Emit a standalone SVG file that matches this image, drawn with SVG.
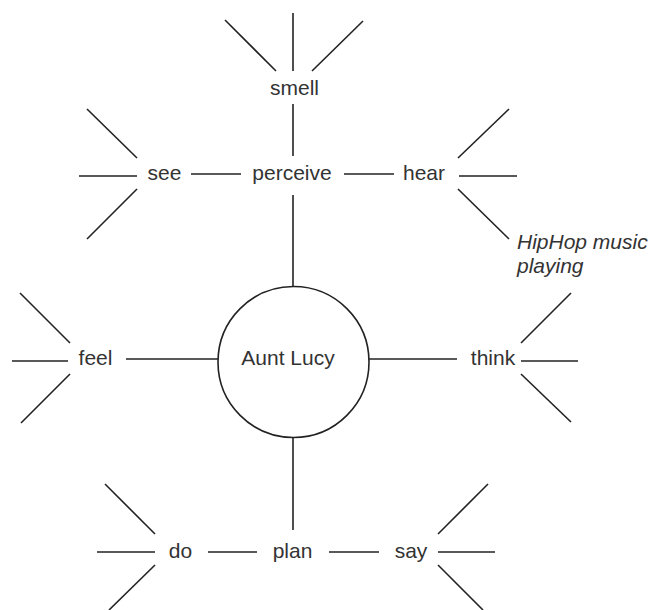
<svg xmlns="http://www.w3.org/2000/svg" width="649" height="610" viewBox="0 0 649 610">
<style>
.ln{stroke:#222;stroke-width:1.6;fill:none;stroke-linecap:butt}
.t{font-family:"Liberation Sans",Arial,sans-serif;font-size:21px;fill:#333;text-anchor:middle}
.i{font-family:"Liberation Sans",Arial,sans-serif;font-size:21px;fill:#333;font-style:italic}
</style>
<rect width="649" height="610" fill="#fff"/>
<g id="connectors" class="ln">
<line x1="293" y1="104" x2="293" y2="156"/>
<line x1="191" y1="174" x2="241" y2="174"/>
<line x1="344" y1="174" x2="394" y2="174"/>
<line x1="293" y1="195" x2="293" y2="287"/>
<line x1="126" y1="359" x2="218" y2="359"/>
<line x1="369" y1="359" x2="457" y2="359"/>
<line x1="293" y1="437" x2="293" y2="530"/>
<line x1="208" y1="552" x2="257" y2="552"/>
<line x1="329" y1="552" x2="379" y2="552"/>
<!-- smell fan -->
<line x1="225" y1="20" x2="276" y2="71"/>
<line x1="293" y1="13" x2="293" y2="71"/>
<line x1="363" y1="21" x2="312" y2="71"/>
<!-- see fan -->
<line x1="87" y1="109" x2="137" y2="158"/>
<line x1="79" y1="176" x2="137" y2="176"/>
<line x1="137" y1="189" x2="87" y2="239"/>
<!-- hear fan -->
<line x1="458" y1="158" x2="509" y2="109"/>
<line x1="459" y1="176" x2="517" y2="176"/>
<line x1="458" y1="189" x2="509" y2="239"/>
<!-- feel fan -->
<line x1="20" y1="293" x2="70" y2="343"/>
<line x1="12" y1="361" x2="68" y2="361"/>
<line x1="70" y1="374" x2="21" y2="423"/>
<!-- think fan -->
<line x1="521" y1="343" x2="571" y2="293"/>
<line x1="521" y1="361" x2="578" y2="361"/>
<line x1="521" y1="374" x2="571" y2="422"/>
<!-- do fan -->
<line x1="105" y1="484" x2="155" y2="534"/>
<line x1="97" y1="552" x2="155" y2="552"/>
<line x1="155" y1="565" x2="109" y2="610"/>
<!-- say fan -->
<line x1="438" y1="534" x2="488" y2="484"/>
<line x1="438" y1="552" x2="495" y2="552"/>
<line x1="438" y1="565" x2="483" y2="610"/>
</g>
<g id="aunt-lucy">
<circle cx="293.5" cy="362" r="75.5" class="ln" fill="#fff"/>
<text class="t" x="288" y="365">Aunt Lucy</text>
</g>
<g id="smell"><text class="t" x="294.5" y="95">smell</text></g>
<g id="see"><text class="t" x="164.5" y="180">see</text></g>
<g id="perceive"><text class="t" x="292" y="180">perceive</text></g>
<g id="hear"><text class="t" x="424" y="180">hear</text></g>
<g id="hiphop"><text class="i" x="517" y="249">HipHop music</text><text class="i" x="517" y="273">playing</text></g>
<g id="feel"><text class="t" x="95.5" y="365">feel</text></g>
<g id="think"><text class="t" x="493" y="365">think</text></g>
<g id="do"><text class="t" x="180.5" y="558">do</text></g>
<g id="plan"><text class="t" x="292.5" y="558">plan</text></g>
<g id="say"><text class="t" x="411" y="558">say</text></g>
</svg>
